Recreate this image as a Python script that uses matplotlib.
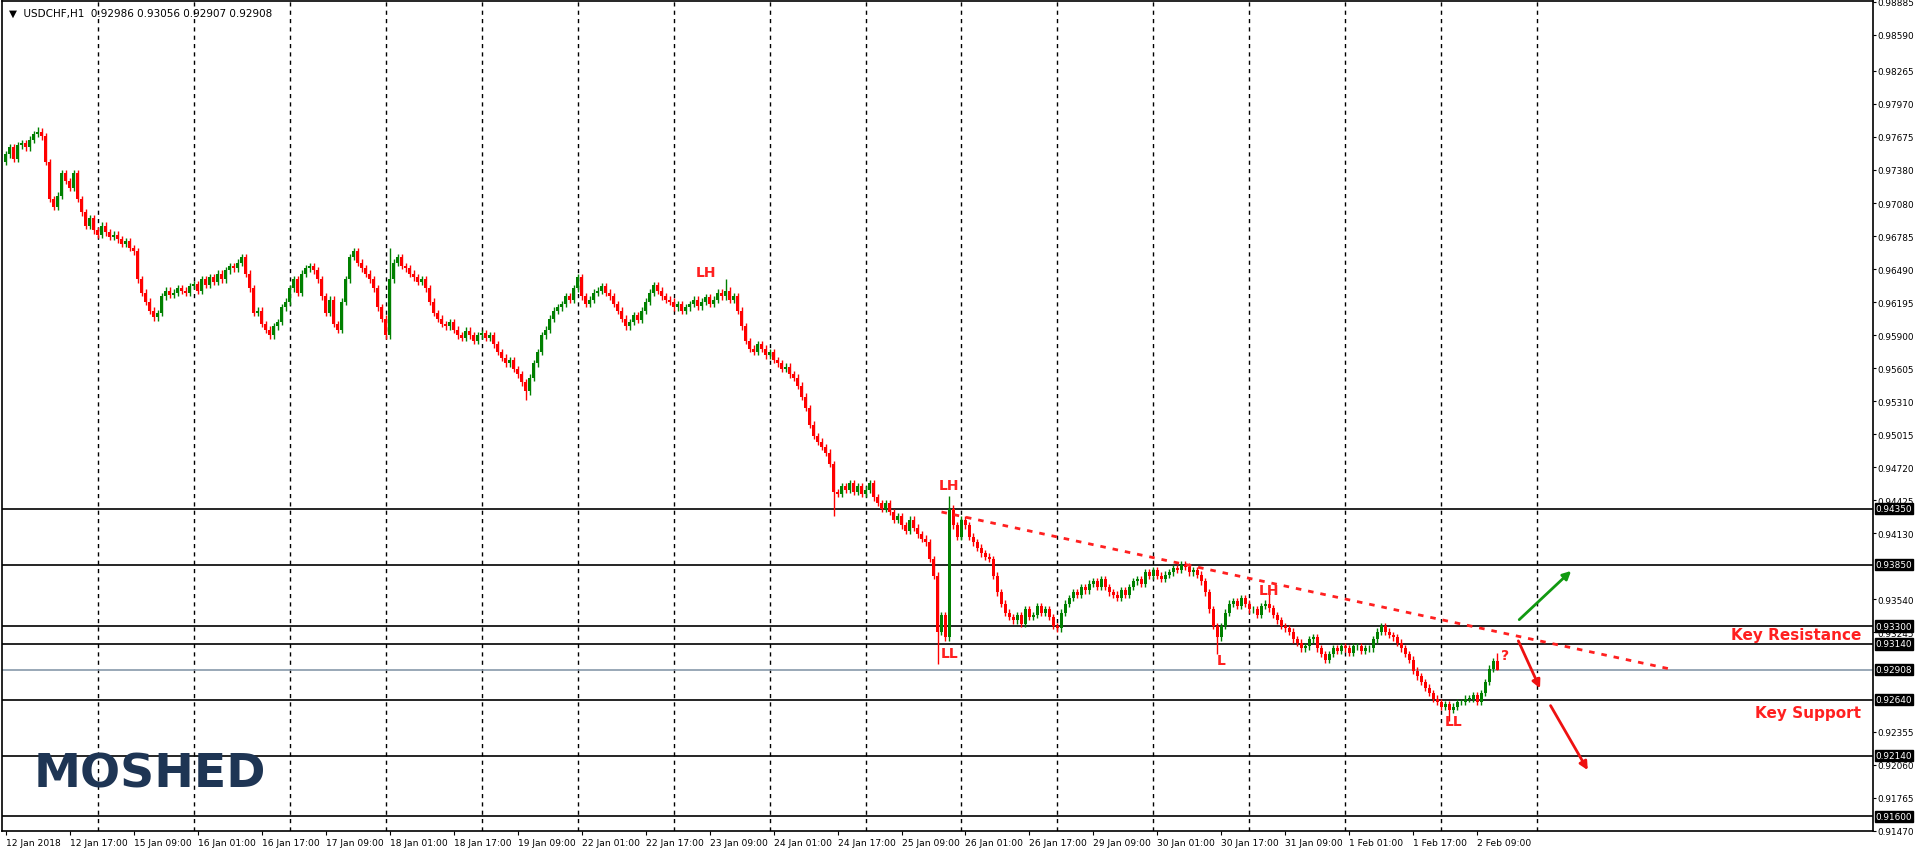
import matplotlib
matplotlib.use("Agg")
import matplotlib.pyplot as plt
import numpy as np
from matplotlib.transforms import blended_transform_factory

plt.rcParams['font.family'] = ['DejaVu Sans']

closes_pips = [
9752,9758,9748,9760,9762,9758,9765,9770,9772,9768,
9745,9712,9705,9715,9735,9728,9722,9735,9712,9700,
9688,9695,9684,9680,9688,9682,9678,9680,9676,9672,
9674,9668,9665,9640,9628,9620,9612,9606,9610,9625,
9630,9626,9628,9632,9630,9628,9634,9636,9630,9640,
9635,9642,9638,9645,9640,9648,9652,9650,9655,9660,
9645,9632,9610,9612,9600,9595,9590,9598,9602,9615,
9620,9632,9640,9628,9645,9650,9652,9648,9640,9625,
9610,9622,9600,9595,9620,9640,9660,9665,9655,9650,
9645,9640,9632,9615,9605,9590,9640,9655,9660,9652,
9650,9645,9642,9638,9640,9632,9620,9610,9605,9600,
9598,9602,9595,9590,9588,9594,9590,9585,9590,9592,
9588,9590,9582,9575,9570,9565,9568,9560,9555,9548,
9540,9552,9565,9575,9590,9595,9605,9612,9615,9618,
9625,9622,9632,9642,9625,9618,9622,9628,9630,9634,
9628,9625,9618,9612,9605,9598,9602,9608,9604,9612,
9620,9628,9635,9630,9625,9622,9620,9615,9618,9612,
9615,9618,9622,9616,9620,9624,9618,9622,9628,9625,
9630,9622,9625,9612,9598,9585,9578,9575,9582,9578,
9572,9575,9568,9565,9560,9562,9555,9552,9545,9535,
9525,9510,9500,9495,9490,9485,9475,9450,9448,9455,
9452,9458,9450,9455,9448,9452,9458,9445,9440,9435,
9440,9432,9425,9428,9420,9415,9425,9418,9412,9408,
9405,9390,9375,9325,9340,9320,9435,9420,9410,9425,
9420,9410,9405,9400,9395,9392,9390,9375,9360,9350,
9342,9338,9335,9340,9332,9345,9338,9340,9348,9342,
9345,9338,9330,9328,9342,9350,9355,9360,9358,9365,
9362,9368,9370,9365,9372,9365,9360,9358,9355,9362,
9358,9365,9370,9372,9368,9378,9375,9380,9375,9372,
9376,9378,9382,9380,9385,9383,9378,9380,9376,9370,
9360,9345,9330,9320,9330,9342,9350,9352,9348,9355,
9350,9345,9345,9340,9348,9350,9346,9340,9335,9330,
9328,9325,9318,9315,9310,9312,9318,9320,9310,9305,
9300,9305,9310,9308,9312,9310,9306,9312,9312,9308,
9310,9310,9318,9325,9330,9325,9322,9320,9315,9310,
9305,9300,9290,9285,9280,9275,9270,9265,9262,9258,
9260,9255,9258,9262,9262,9265,9265,9268,9262,9270,
9280,9292,9298.6,9290.8,
]
first_open_pips = 9745
wick_overrides = {8: (9776, None), 130: (None, 9532), 233: (None, 9296), 236: (9446, None),
                  303: (None, 9305), 316: (9362, None), 180: (9640, None), 361: (None, 9245),
                  373: (9305.6, 9290.7), 96: (9668, None), 207: (None, 9428)}

x_labels = ["12 Jan 2018", "12 Jan 17:00", "15 Jan 09:00", "16 Jan 01:00", "16 Jan 17:00",
            "17 Jan 09:00", "18 Jan 01:00", "18 Jan 17:00", "19 Jan 09:00", "22 Jan 01:00",
            "22 Jan 17:00", "23 Jan 09:00", "24 Jan 01:00", "24 Jan 17:00", "25 Jan 09:00",
            "26 Jan 01:00", "26 Jan 17:00", "29 Jan 09:00", "30 Jan 01:00", "30 Jan 17:00",
            "31 Jan 09:00", "1 Feb 01:00", "1 Feb 17:00", "2 Feb 09:00"]
price_ticks = [0.98885, 0.98590, 0.98265, 0.97970, 0.97675, 0.97380, 0.97080, 0.96785,
               0.96490, 0.96195, 0.95900, 0.95605, 0.95310, 0.95015, 0.94720, 0.94425,
               0.94130, 0.93540, 0.93245, 0.92355, 0.92060, 0.91765, 0.91470]
level_lines = [0.94350, 0.93850, 0.93300, 0.93140, 0.92640, 0.92140, 0.91600]
current_price = 0.92908
trend_x = [234, 417]
trend_y = [0.9432, 0.9291]
annotations = [("LH", 175, 0.9647), ("LH", 236, 0.9456), ("LL", 236, 0.9306), ("L", 304, 0.9300),
               ("LH", 316, 0.9362), ("LL", 362, 0.9245), ("?", 375, 0.9304)]

closes = np.array(closes_pips) / 10000.0
opens = np.concatenate([[first_open_pips / 10000.0], closes[:-1]])
opens[-1] = 0.92986
highs = np.maximum(opens, closes) + 0.0003
lows = np.minimum(opens, closes) - 0.0003
for i, (h, l) in wick_overrides.items():
    if h is not None:
        highs[i] = h / 10000.0
    if l is not None:
        lows[i] = l / 10000.0
n = len(closes)
idx = np.arange(n)

W, H = 1916, 854
fig = plt.figure(figsize=(W / 100, H / 100), dpi=100)
ax = fig.add_axes([2 / W, 22 / H, (1873 - 2) / W, (832 - 2) / H])
ax.set_xlim(-1, 467)
ax.set_ylim(0.91467, 0.98890)

for gx in range(23, 390, 24):
    ax.axvline(gx, color="black", lw=1, ls=(0, (3, 3)), zorder=1)

for lv in level_lines:
    ax.axhline(lv, color="black", lw=1.2, zorder=2)
ax.axhline(current_price, color="#8899aa", lw=1.2, zorder=2)

up = closes >= opens
colors = np.where(up, "#008000", "#ff0000")
ax.vlines(idx, lows, highs, colors=colors, lw=1, zorder=3)
body_h = np.maximum(np.abs(closes - opens), 0.00004)
ax.bar(idx, body_h, bottom=np.minimum(opens, closes), width=0.75, color=colors, lw=0, zorder=4)

ax.plot(trend_x, trend_y, color="#ff2020", lw=2, ls=(0, (2, 2.5)), zorder=5)

for t, x, y in annotations:
    ax.text(x, y, t, color="#ff2020", fontsize=10, fontweight="bold", ha="center", va="center", zorder=6)

ax.text(464, 0.9322, "Key Resistance", color="#ff2020", fontsize=11, fontweight="bold", ha="right", va="center")
ax.text(464, 0.9253, "Key Support", color="#ff2020", fontsize=11, fontweight="bold", ha="right", va="center")

arrow_kw = dict(arrowstyle="-|>", lw=2, mutation_scale=12)
ax.annotate("", xy=(392, 0.9381), xytext=(378, 0.9334), arrowprops=dict(color="#119911", **arrow_kw))
ax.annotate("", xy=(384, 0.9272), xytext=(378, 0.9319), arrowprops=dict(color="#ee1111", **arrow_kw))
ax.annotate("", xy=(396, 0.9199), xytext=(386, 0.9261), arrowprops=dict(color="#ee1111", **arrow_kw))

ax.text(0.004, 0.992, "\u25bc  USDCHF,H1  0.92986 0.93056 0.92907 0.92908", transform=ax.transAxes,
        fontsize=7.5, ha="left", va="top")

fig.text(34 / W, 1 - 775 / H, "MOSHED", color="#1e3554", fontsize=34, fontweight="bold",
         ha="left", va="center")

ax.yaxis.tick_right()
ax.set_yticks(price_ticks)
ax.set_yticklabels([f"{p:.5f}" for p in price_ticks], fontsize=6.4)
ax.tick_params(axis="y", length=2, pad=1)
ax.set_xticks(np.arange(len(x_labels)) * 16)
ax.set_xticklabels(x_labels, fontsize=6.6, ha="left")
ax.tick_params(axis="x", length=3, pad=2)
for s in ax.spines.values():
    s.set_linewidth(1.2)

tr = blended_transform_factory(ax.transAxes, ax.transData)
for lv in level_lines + [current_price]:
    ax.text(1.0015, lv, f"{lv:.5f}", transform=tr, fontsize=6.4, color="white", ha="left", va="center",
            bbox=dict(boxstyle="square,pad=0.12", fc="black", ec="black"), zorder=10, clip_on=False)

fig.savefig("out.png", dpi=100, facecolor="white")
